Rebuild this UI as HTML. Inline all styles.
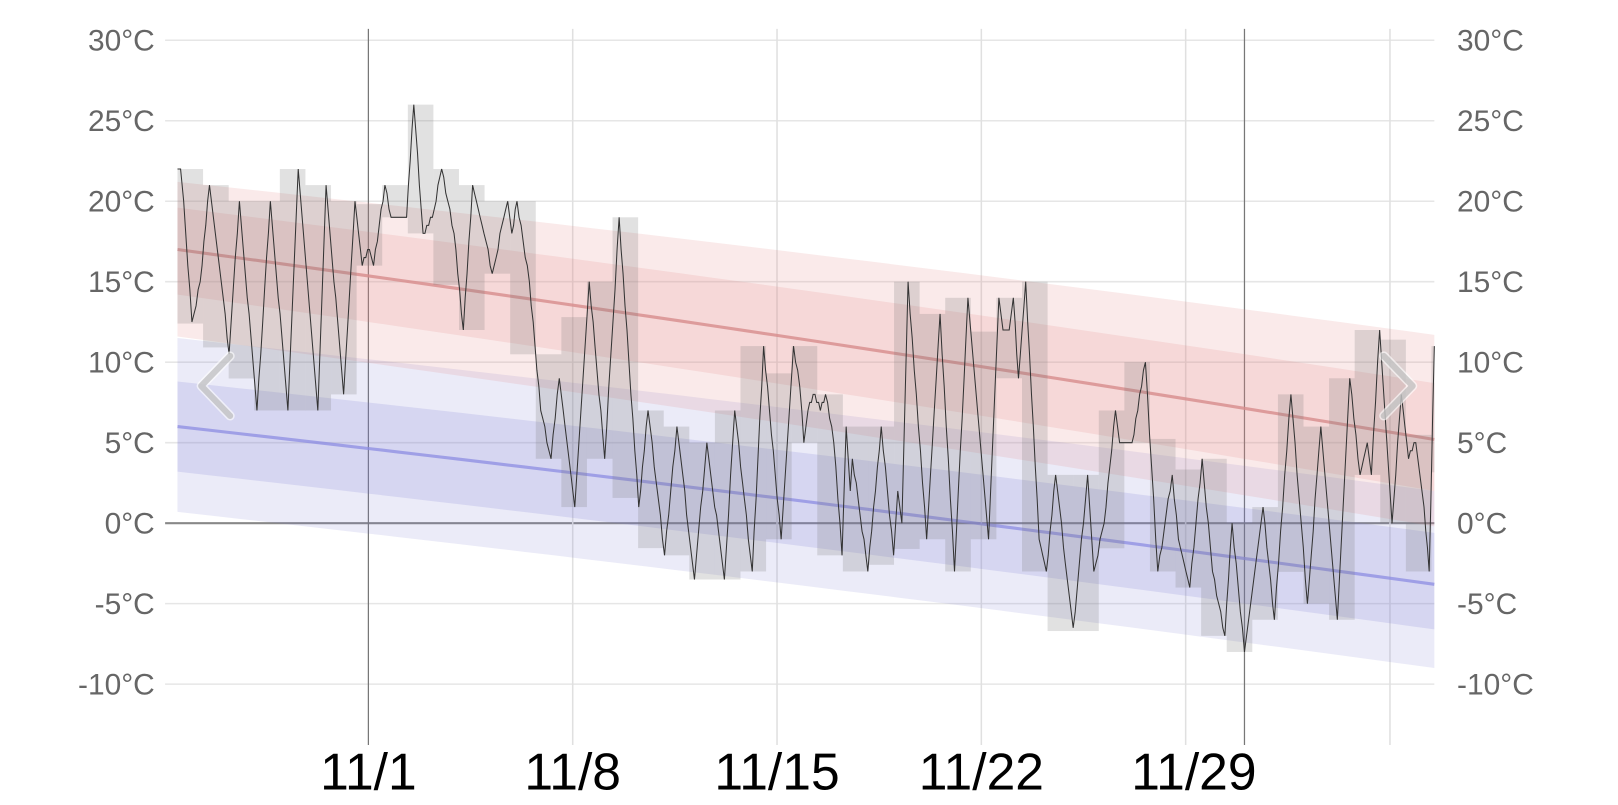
<!DOCTYPE html>
<html><head><meta charset="utf-8"><style>
body{margin:0;background:#fff;width:1618px;height:805px;overflow:hidden}
svg{display:block}
.yl{font:29px "Liberation Sans",sans-serif;fill:#666}
.xl{font:50px "Liberation Sans",sans-serif;fill:#000}
</style></head><body>
<svg width="1618" height="805" xmlns="http://www.w3.org/2000/svg"><g id="s" transform="scale(1.0319)"></g></svg>
<script>
const s=document.getElementById('s');
const Y=t=>507-15.6*t;
let h='';
for(let t=30;t>=-10;t-=5){h+=`<line x1="160" x2="1390" y1="${Y(t)}" y2="${Y(t)}" stroke="${t==0?'#888':'#e6e6e6'}" stroke-width="${t==0?2:1.5}"/>`;
 h+=`<text class="yl" x="150" y="${Y(t)+10}" text-anchor="end">${t}°C</text><text class="yl" x="1412" y="${Y(t)+10}">${t}°C</text>`;}
[555,753,951,1149,1347].forEach(x=>h+=`<line x1="${x}" x2="${x}" y1="28" y2="722" stroke="#e0e0e0" stroke-width="1.5"/>`);
[357,1206].forEach(x=>h+=`<line x1="${x}" x2="${x}" y1="28" y2="722" stroke="#777" stroke-width="1.2"/>`);
const x0=172,x1=1390;
function band(c0,c1,a0,a1,b0,b1,col){let top=[],bot=[];for(let i=0;i<=40;i++){let f=i/40,x=x0+(x1-x0)*f,c=c0+(c1-c0)*(f*0.9+0.1*f*f);top.push(x+','+Y(c+a0+(a1-a0)*f));bot.unshift(x+','+Y(c-b0-(b1-b0)*f));}
 return `<polygon points="${top.concat(bot).join(' ')}" fill="${col}"/>`;}
function cl(c0,c1,col){let p=[];for(let i=0;i<=40;i++){let f=i/40;p.push((x0+(x1-x0)*f)+','+Y(c0+(c1-c0)*(f*0.9+0.1*f*f)));}return `<polyline points="${p.join(' ')}" fill="none" stroke="${col}" stroke-width="3"/>`;}
h+=band(6,-3.8,5.5,5.8,5.3,5.2,'rgba(120,120,210,0.15)');
h+=band(6,-3.8,2.8,3.2,2.8,2.8,'rgba(120,120,210,0.18)');
h+=band(17,5.2,4.2,6.5,5.4,5.4,'rgba(225,130,130,0.17)');
h+=band(17,5.2,2.6,3.5,2.8,3.2,'rgba(225,130,130,0.17)');
h+=cl(6,-3.8,'rgba(140,140,225,0.75)');
h+=cl(17,5.2,'rgba(215,140,140,0.8)');
const P=[[172,22],[175,22],[178,20],[186,12.4],[194,15],[203,21],[222,10.7],[232,20],[249,7],[262,20],[279,7],[289,22],[308,7],[316,21],[333,8],[344,20],[351,16],[358,17],[362,16],[373,21],[379,19],[394,19],[401,26],[410,18],[419,19],[428,22],[440,18],[449,12],[458,21],[469,18],[477,15.5],[492,20],[496,18],[501,20],[513,15],[524,7],[534,4],[542,9],[557,1],[571,15],[586,4],[600,19],[619,1],[628,7],[644,-2],[656,6],[673,-3.5],[685,5],[702,-3.5],[712,7],[729,-3],[740,11],[757,-1],[769,11],[775,8.7],[779,5],[783,7],[788,8],[795,7],[800,8],[808,5],[816,-2],[820,6],[824,2],[826,4],[841,-3],[854,6],[866,-2],[870,2],[874,0],[880,15],[898,-1],[911,13],[925,-3],[938,14],[958,-1],[968,14],[972,12],[978,12],[982,14],[987,9],[994,15],[1007,-1],[1014,-3],[1023,3],[1040,-6.7],[1054,3],[1060,-3],[1070,0],[1081,7],[1085,5],[1097,5],[1110,10],[1122,-3],[1136,3],[1142,-1],[1153,-4],[1165,4],[1175,-3],[1187,-7],[1194,0],[1206,-8],[1224,1],[1235,-6],[1251,8],[1267,-5],[1280,6],[1296,-6],[1308,9],[1318,3],[1325,5],[1329,3],[1337,12],[1349,0],[1358,8],[1365,4],[1372,5],[1380,1],[1385,-3],[1390,11]];
const dw=24.8;
for(let b=172;b<1390;b+=dw){let e=Math.min(b+dw,1390);let v=[];
 for(let i=0;i<P.length-1;i++){let [xa,ta]=P[i],[xb,tb]=P[i+1];if(xb<b||xa>e)continue;
  for(const x of [Math.max(xa,b),Math.min(xb,e)]){v.push(ta+(tb-ta)*(x-xa)/(xb-xa||1));}
  if(xa>=b&&xa<=e)v.push(ta);if(xb>=b&&xb<=e)v.push(tb);}
 if(!v.length)continue;let mx=Math.max(...v),mn=Math.min(...v);
 h+=`<rect x="${b}" y="${Y(mx)}" width="${e-b}" height="${Y(mn)-Y(mx)}" fill="rgba(120,120,120,0.22)"/>`;}
let pts=[];for(let i=0;i<P.length-1;i++){let [xa,ta]=P[i],[xb,tb]=P[i+1];let n=Math.max(1,Math.round((xb-xa)/2));
 for(let k=0;k<n;k++){let f=k/n;let t=ta+(tb-ta)*f;t=Math.round(t*2)/2;pts.push((xa+(xb-xa)*f).toFixed(1)+','+Y(t).toFixed(1));}}
pts.push('1390,'+Y(11));
h+=`<polyline points="${pts.join(' ')}" fill="none" stroke="#333" stroke-width="1"/>`;
const chev=p=>`<polyline points="${p}" fill="none" stroke="#fff" stroke-width="9" stroke-linecap="round" stroke-linejoin="round" opacity="0.6"/><polyline points="${p}" fill="none" stroke="#aaa" stroke-width="6" stroke-linecap="round" stroke-linejoin="round" opacity="0.55"/>`;
h+=chev('223,345 195,374 223,403')+chev('1341,345 1369,374 1341,403');
[[357,'11/1'],[555,'11/8'],[753,'11/15'],[951,'11/22'],[1157,'11/29']].forEach(([x,t])=>h+=`<text class="xl" x="${x}" y="765" text-anchor="middle">${t}</text>`);
s.innerHTML=h;
</script>
</body></html>
